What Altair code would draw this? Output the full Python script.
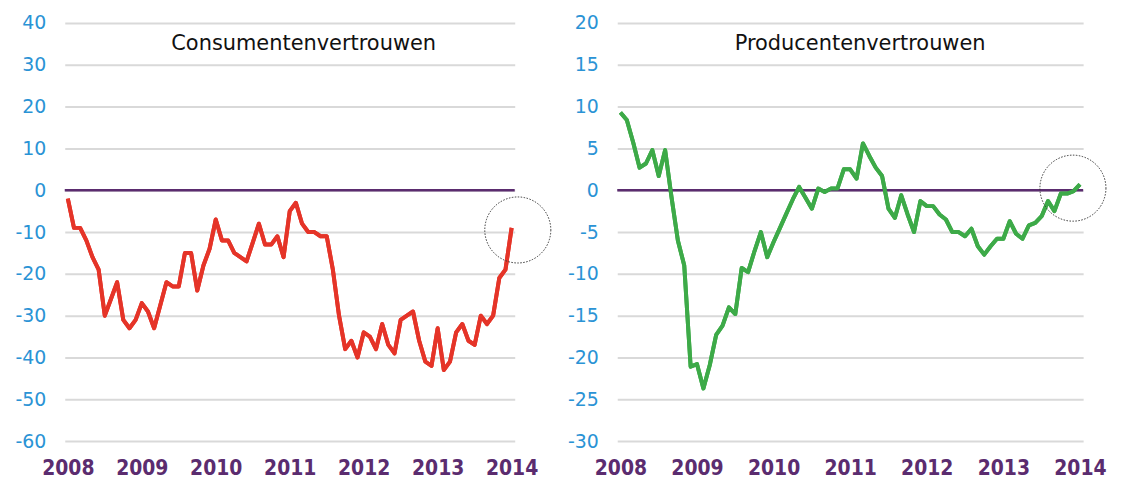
import altair as alt
import pandas as pd

years = ["2008", "2009", "2010", "2011", "2012", "2013", "2014"]

# Consumentenvertrouwen, monthly Jan 2008 - Jan 2014
consument = [
    -2, -9, -9, -12, -16, -19, -30, -26, -22, -31, -33, -31,
    -27, -29, -33, -27.5, -22, -23, -23, -15, -15, -24, -18, -14,
    -7, -12, -12, -15, -16, -17, -12.5, -8, -13, -13, -11, -16,
    -5, -3, -8, -10, -10, -11, -11, -19, -30, -38, -36, -40,
    -34, -35, -38, -32, -37, -39, -31, -30, -29, -36, -41, -42,
    -33, -43, -41, -34, -32, -36, -37, -30, -32, -30, -21, -19,
    -9,
]

# Producentenvertrouwen, monthly Jan 2008 - Jan 2014
producent = [
    9.3, 8.4, 5.7, 2.7, 3.2, 4.8, 1.7, 4.8, -0.8, -6, -9, -21.1,
    -20.8, -23.7, -20.9, -17.3, -16.2, -14, -14.8, -9.3, -9.8, -7.3, -5, -8,
    -6.2, -4.5, -2.8, -1.1, 0.4, -0.9, -2.2, 0.2, -0.2, 0.2, 0.2, 2.5,
    2.5, 1.4, 5.6, 4.1, 2.7, 1.7, -2.2, -3.3, -0.6, -2.9, -5, -1.3,
    -1.9, -1.9, -2.9, -3.5, -5, -5, -5.5, -4.6, -6.7, -7.7, -6.7, -5.8,
    -5.8, -3.7, -5.2, -5.8, -4.2, -3.9, -3.1, -1.3, -2.5, -0.4, -0.4, -0.1,
    0.7,
]

months = list(range(len(consument)))
tick_vals = [12 * i for i in range(len(years))]
label_expr = "[" + ",".join("'%s'" % y for y in years) + "][round(datum.value/12)]"

PURPLE = "#5B2C6F"
BLUE = "#2A93D5"


def panel(values, color, ymin, ymax, ystep, title, width, circle, title_x):
    df = pd.DataFrame({"m": months, "v": values})
    x = alt.X(
        "m:Q",
        scale=alt.Scale(domain=[-0.5, 72.5], nice=False, zero=False),
        axis=alt.Axis(
            values=tick_vals, labelExpr=label_expr, title=None, grid=False,
            domain=False, ticks=False, labelFont="DejaVu Sans Condensed, DejaVu Sans",
            labelFontSize=21, labelFontWeight="bold", labelColor=PURPLE,
            labelPadding=17, labelFlush=False, labelOverlap=False,
        ),
    )
    y = alt.Y(
        "v:Q",
        scale=alt.Scale(domain=[ymin, ymax], nice=False, zero=False),
        axis=alt.Axis(
            values=list(range(ymin, ymax + 1, ystep)), title=None, grid=True,
            labelExpr="datum.value + ''",
            gridColor="#D9D9D9", gridWidth=2, domain=False, ticks=False,
            labelFont="DejaVu Sans", labelFontSize=19, labelColor=BLUE,
            labelPadding=19, labelFlush=False, labelOverlap=False,
        ),
    )
    zero = alt.Chart(pd.DataFrame({"z": [0]})).mark_rule(
        color=PURPLE, strokeWidth=2.5
    ).encode(y=alt.Y("z:Q"))
    line = alt.Chart(df).mark_line(color=color, strokeWidth=4, strokeJoin="round").encode(x=x, y=y)
    circ = alt.Chart(pd.DataFrame({"m": [circle[0]], "v": [circle[1]]})).mark_point(
        shape="circle", size=4400, filled=False, color="#333333",
        strokeWidth=1, strokeDash=[1.5, 1.5], clip=False, opacity=1,
    ).encode(x="m:Q", y="v:Q")
    ttl = alt.Chart(pd.DataFrame({"t": [title]})).mark_text(
        font="DejaVu Sans", fontSize=21, color="#111111", baseline="middle", align="center"
    ).encode(text="t:N", x=alt.value(title_x), y=alt.value(21))
    return alt.layer(line, zero, line, circ, ttl).properties(width=width, height=420)


left = panel(consument, "#E53428", -60, 40, 10, "Consumentenvertrouwen", 452, (73.0, -9.5), 240)
right = panel(producent, "#3DAA48", -30, 20, 5, "Producentenvertrouwen", 468, (70.9, 0.25), 244)

chart = alt.hconcat(left, right, spacing=103, bounds="flush").properties(
    padding={"left": 6, "top": 5, "right": 5, "bottom": 0}
).configure_view(stroke=None)

chart.save("out.html", embed_options={"renderer": "svg", "actions": False})
